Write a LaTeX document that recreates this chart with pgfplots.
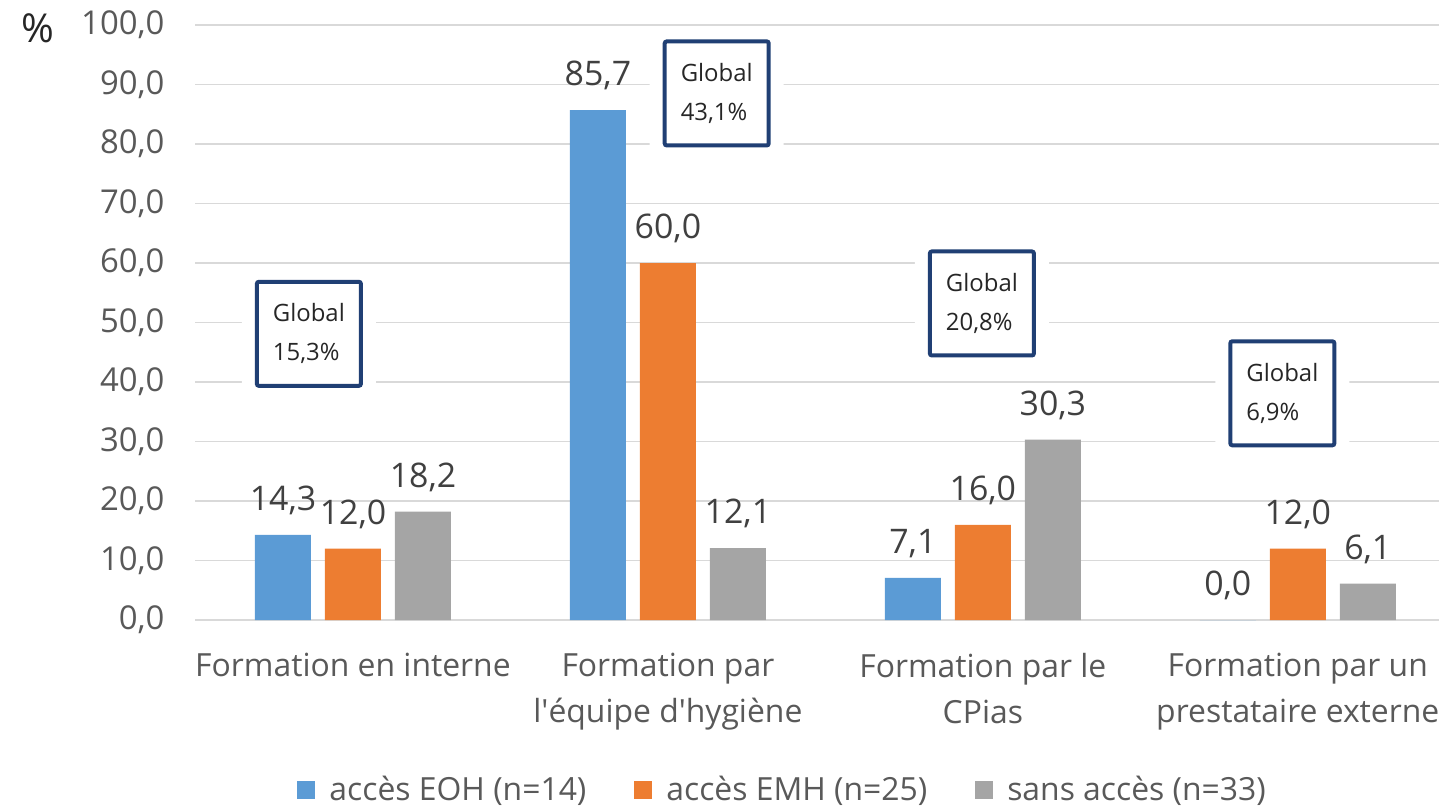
\documentclass[border=0pt]{standalone}
\usepackage{fontspec}
\setmainfont{Open Sans}
\usepackage{pgfplots}
\pgfplotsset{compat=1.18}

\definecolor{cEOH}{HTML}{5B9BD5}
\definecolor{cEMH}{HTML}{ED7D31}
\definecolor{cSANS}{HTML}{A5A5A5}
\definecolor{gridc}{HTML}{D9D9D9}
\definecolor{txt}{HTML}{595959}
\definecolor{vals}{HTML}{404040}
\definecolor{boxc}{HTML}{203F74}

\tikzset{globalbox/.style={draw=boxc, line width=2bp, fill=white, rounded corners=1bp,
  preaction={draw=white, line width=15bp},
  minimum width=52bp, minimum height=52bp, align=left, text=black!85,
  font=\fontsize{12}{19.5}\selectfont}}

\begin{document}
\begin{tikzpicture}
\path[use as bounding box] (-97.75bp,-93bp) rectangle (621.75bp,310bp);
\begin{axis}[
  at={(0,0)}, anchor=south west,
  scale only axis, width=622bp, height=297.5bp,
  ybar=7bp, bar width=28bp,
  xmin=-0.5, xmax=3.45,
  ymin=0, ymax=100, ytick={0,10,...,100},
  xtick={0,1,2,3},
  xticklabels={Formation en interne, Formation par\\l\textquotesingle équipe d\textquotesingle hygiène, Formation par le\\CPias, Formation par un\\prestataire externe},
  xticklabel style={align=center, text=txt, font=\fontsize{16}{23}\selectfont, yshift=-13bp},
  yticklabel style={text=txt, font=\fontsize{16.5}{18}\selectfont, xshift=-12bp},
  /pgf/number format/.cd, fixed, fixed zerofill, precision=1, use comma, assume math mode=true,
  /pgfplots/.cd,
  yticklabel={\pgfmathprintnumber{\tick}},
  major tick length=0pt,
  axis line style={draw=none},
  ymajorgrids, grid style={gridc, line width=0.9bp},
  nodes near coords,
  every node near coord/.append style={text=vals, font=\fontsize{17}{18}\selectfont, yshift=6.5bp},
  legend columns=3,
  legend style={draw=none, fill=none, at={(0.4728,-0.2857)}, anchor=center,
    font=\fontsize{16}{18}\selectfont, text=txt,
    /tikz/every even column/.append style={column sep=22bp}},
  legend image code/.code={\fill[#1] (0bp,-4.5bp) rectangle (9bp,4.5bp); \path (14bp,0bp);},
  clip=false,
]
\addplot[fill=cEOH, draw=none] coordinates {(0,14.3) (1,85.7) (2,7.1) (3,0.0)};
\addplot[fill=cEMH, draw=none] coordinates {(0,12.0) (1,60.0) (2,16.0) (3,12.0)};
\addplot[fill=cSANS, draw=none] coordinates {(0,18.2) (1,12.1) (2,30.3) (3,6.1)};
\legend{accès EOH (n=14), accès EMH (n=25), sans accès (n=33)}

\node[globalbox] at (axis cs:-0.14,48.1) {Global\\15,3\%};
\node[globalbox] at (axis cs:1.155,88.5) {Global\\43,1\%};
\node[globalbox] at (axis cs:1.997,53.2) {Global\\20,8\%};
\node[globalbox] at (axis cs:2.951,38.1) {Global\\6,9\%};

\node[text=black!85, font=\fontsize{20}{22}\selectfont] at (rel axis cs:-0.1267,0.995) {\%};
\end{axis}
\end{tikzpicture}
\end{document}
